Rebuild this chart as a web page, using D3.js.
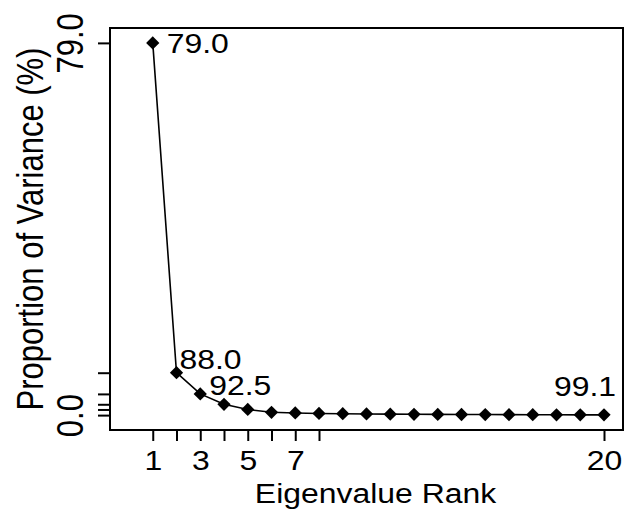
<!DOCTYPE html>
<html><head><meta charset="utf-8">
<script src="https://cdn.jsdelivr.net/npm/d3@7"></script>
<style>body{margin:0;background:#fff} svg{display:block}</style>
</head><body><svg id="c" width="625" height="511"></svg>
<script>
const ranks = [1,2,3,4,5,6,7,8,9,10,11,12,13,14,15,16,17,18,19,20];
const variance = [79.0, 9.0, 4.5, 2.3, 1.2, 0.6, 0.45, 0.35, 0.3, 0.25, 0.2, 0.18, 0.15, 0.13, 0.12, 0.1, 0.08, 0.07, 0.06, 0.06];
const xTickValues = [1,2,3,4,5,6,7,8,20];
const xTickLabels = ["1","","3","","5","","7","","20"];
const yTickValues = [79.0, 9.0, 4.5, 2.3, 1.2, 0.0];
const yTickLabels = ["79.0","","","","","0.0"];
const labelRanks = [1,2,3,20];
const cumulativeLabels = ["79.0","88.0","92.5","99.1"];

const svg = d3.select("#c");
const box = {l:110, r:623, t:28, b:430};
const x = d3.scaleLinear().domain([-0.8, 20.8]).range([box.l, box.r]);
const y = d3.scaleLinear().domain([-3.16, 82.16]).range([box.b, box.t]);
const font = "'Liberation Sans', Arial, Helvetica, sans-serif";
const fsH = 28, sx = 1.14;   // horizontal text
const fsV = 31, sv = 1.18;   // vertical text

// box
svg.append("rect").attr("x", box.l).attr("y", box.t)
  .attr("width", box.r - box.l).attr("height", box.b - box.t)
  .attr("fill","none").attr("stroke","#000").attr("stroke-width",2);

// x axis
const xAxis = d3.axisBottom(x).tickValues(xTickValues)
  .tickFormat((d,i)=>xTickLabels[i]).tickSizeOuter(0).tickSizeInner(11).tickPadding(0);
const gx = svg.append("g").attr("transform",`translate(0,${box.b})`).call(xAxis);
gx.select(".domain").remove();
gx.selectAll(".tick line").attr("stroke","#000").attr("stroke-width",2);
gx.selectAll(".tick text").attr("font-family",font).attr("font-size",fsH)
  .attr("fill","#000").attr("dy",null).attr("y",null)
  .attr("transform",`translate(0,40) scale(${sx},1)`);

// y axis
const yAxis = d3.axisLeft(y).tickValues(yTickValues)
  .tickFormat((d,i)=>yTickLabels[i]).tickSizeOuter(0).tickSizeInner(12).tickPadding(0);
const gy = svg.append("g").attr("transform",`translate(${box.l},0)`).call(yAxis);
gy.select(".domain").remove();
gy.selectAll(".tick line").attr("stroke","#000").attr("stroke-width",2);
gy.selectAll(".tick text").attr("font-family",font).attr("font-size",fsV)
  .attr("fill","#000").attr("x",null).attr("dy",null).attr("text-anchor","middle")
  .attr("transform",`translate(-27,0) rotate(-90) scale(1,${sv})`);

// line
const pts = ranks.map((r,i)=>({r, v: variance[i]}));
svg.append("path").datum(pts)
  .attr("d", d3.line().x(d=>x(d.r)).y(d=>y(d.v)))
  .attr("fill","none").attr("stroke","#000").attr("stroke-width",1.6);

// points (diamonds)
svg.selectAll("path.pt").data(pts).join("path").attr("class","pt")
  .attr("d", d3.symbol(d3.symbolSquare, 88)())
  .attr("transform", d=>`translate(${x(d.r)},${y(d.v)}) rotate(45)`)
  .attr("fill","#000");

// cumulative labels
const labelPlace = {1:{dx:14,dy:10,a:"start"},2:{dx:3,dy:-4,a:"start"},3:{dx:9,dy:1,a:"start"},20:{dx:12,dy:-19,a:"end"}};
labelRanks.forEach((r,i)=>{
  const v = variance[ranks.indexOf(r)];
  const p = labelPlace[r];
  svg.append("text").text(cumulativeLabels[i])
    .attr("font-family",font).attr("font-size",fsH).attr("text-anchor",p.a)
    .attr("transform",`translate(${x(r)+p.dx},${y(v)+p.dy}) scale(${sx},1)`);
});

// axis titles
svg.append("text").text("Eigenvalue Rank")
  .attr("font-family",font).attr("font-size",fsH).attr("text-anchor","middle")
  .attr("transform",`translate(${(box.l+box.r)/2 + 9},503) scale(${sx},1)`);
svg.append("text").text("Proportion of Variance (%)")
  .attr("font-family",font).attr("font-size",fsV).attr("text-anchor","middle")
  .attr("transform",`translate(43,${(box.t+box.b)/2}) rotate(-90) scale(1,${sv})`);
</script></body></html>
